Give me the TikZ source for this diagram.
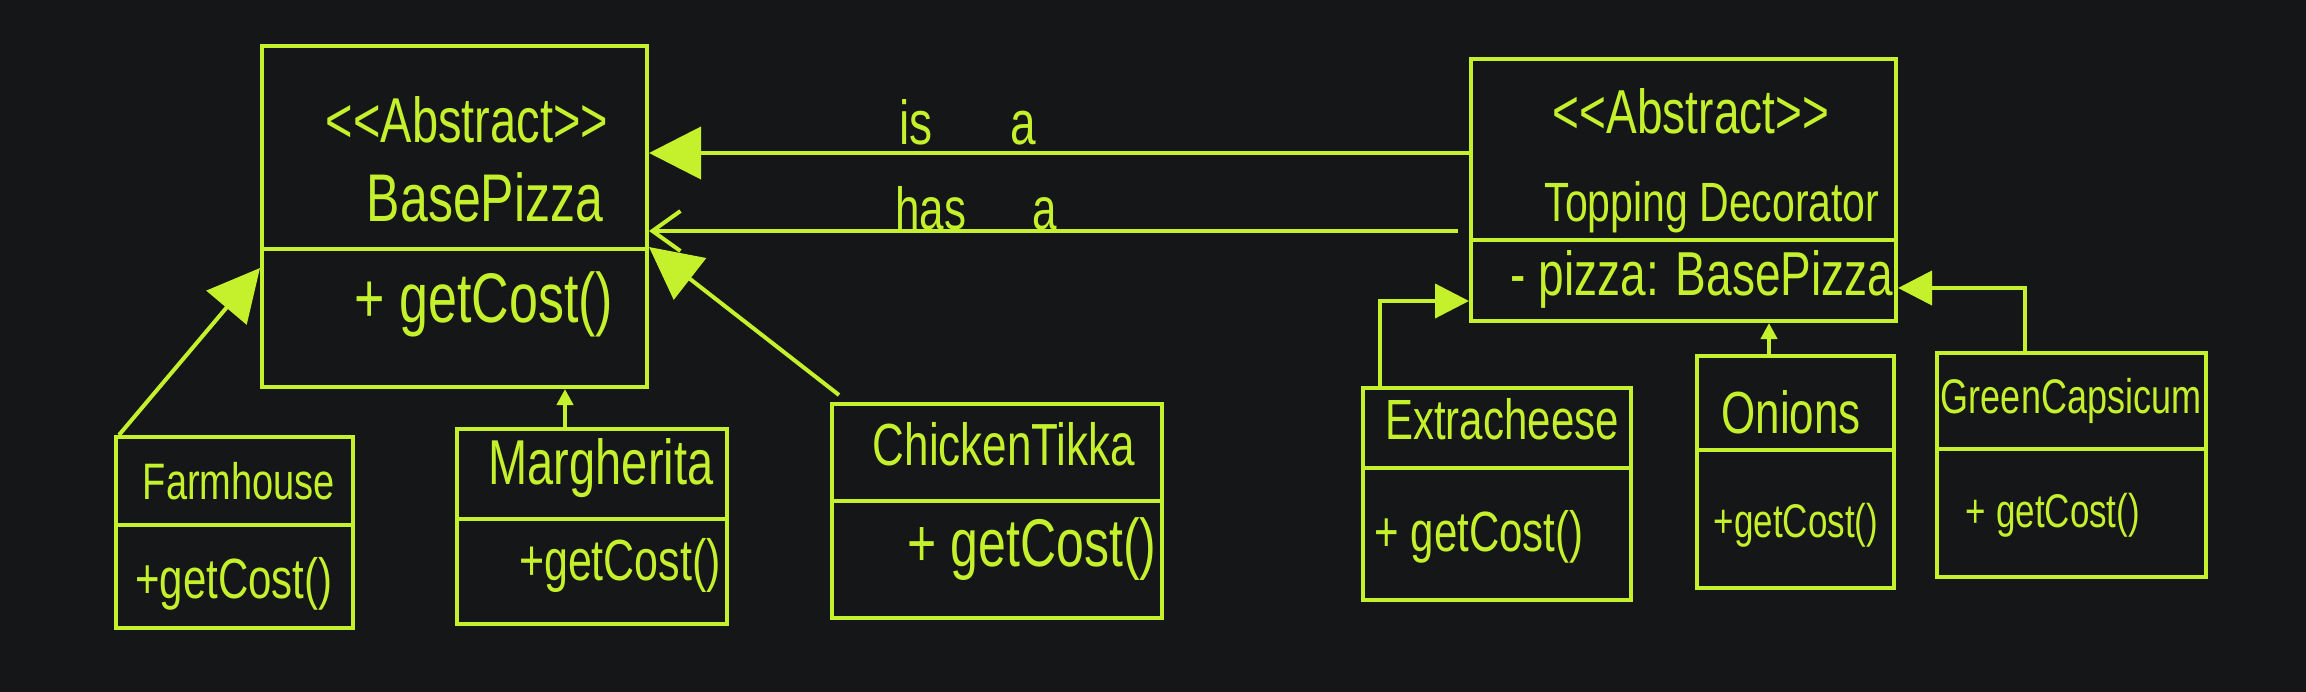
\documentclass[tikz,border=0pt]{standalone}
\usepackage{fontspec}
\setmainfont{Liberation Sans}
\usetikzlibrary{arrows.meta}
\definecolor{lime}{HTML}{C4F02C}
\definecolor{bg}{HTML}{141617}
\tikzset{
  ln/.style={draw=lime, line width=4pt},
  box/.style={draw=lime, line width=4pt, rectangle, inner sep=0pt},
  txt/.style={text=lime, inner sep=0pt, font=\fontsize{#1}{#1}\selectfont},
  tri/.style={-{Triangle[length=#1, width=#1, fill=lime]}},
}
\newcommand{\umlclass}[6]{%
  \node[box, minimum width={(#4)-(#2)}, minimum height={(#5)-(#3)}] (#1) at ({((#2)+(#4))/2},{((#3)+(#5))/2}) {};
  \draw[ln] (#1.west |- 0,#6) -- (#1.east |- 0,#6);
}
\newcommand{\hw}[1]{\scalebox{1}[1.35]{#1}}
\newcommand{\ab}{<\kern0pt<Abstract>\kern0pt>}
\begin{document}
\begin{tikzpicture}[x=1pt, y=-1pt]
\fill[bg] (0,0) rectangle (2306,692);
\useasboundingbox (0,0) rectangle (2306,692);

% classes
\umlclass{bp}{262}{46}{647}{387}{249}
\umlclass{fh}{116}{437}{353}{628}{525}
\umlclass{mg}{457}{429}{727}{624}{519}
\umlclass{ct}{832}{404}{1162}{618}{501}
\umlclass{td}{1471}{59}{1896}{321}{240}
\umlclass{ec}{1363}{388}{1631}{600}{468}
\umlclass{on}{1697}{356}{1894}{588}{450}
\umlclass{gc}{1937}{353}{2206}{577}{449}

% texts
\node[txt=47] (bp1) at (467,120) {\hw{\ab}};
\node[txt=50] (bp2) at (485,197) {\hw{BasePizza}};
\node[txt=52] (bp3) at (484,304) {\hw{+ getCost()}};
\node[txt=38] (fh1) at (239,481) {\hw{Farmhouse}};
\node[txt=42] (fh2) at (234,584) {\hw{+getCost()}};
\node[txt=47] (mg1) at (601,468) {\hw{Margherita}};
\node[txt=43] (mg2) at (620,565) {\hw{+getCost()}};
\node[txt=44] (ct1) at (1004,444) {\hw{ChickenTikka}};
\node[txt=50] (ct2) at (1032,549) {\hw{+ getCost()}};
\node[txt=46] (td1) at (1691,111) {\hw{\ab}};
\node[txt=41] (td2) at (1712,207) {\hw{Topping Decorator}};
\node[txt=46] (td3) at (1702,279) {\hw{- pizza: BasePizza}};
\node[txt=42] (ec1) at (1502,419) {\hw{Extracheese}};
\node[txt=42] (ec2) at (1479,537) {\hw{+ getCost()}};
\node[txt=44] (on1) at (1791,412) {\hw{Onions}};
\node[txt=35] (on2) at (1796,525) {\hw{+getCost()}};
\node[txt=36] (gc1) at (2071,401) {\hw{GreenCapsicum}};
\node[txt=35] (gc2) at (2053,515) {\hw{+ getCost()}};
\node[txt=46] (isa) at (968,122) {\hw{is\hspace{78pt}a}};
\node[txt=44] (hasa) at (976,208) {\hw{has\hspace{66pt}a}};

% connectors
\draw[ln, tri=52pt] (td.west |- 0,153) -- (bp.east |- 0,153);
\draw[ln, -{Straight Barb[length=28pt, width=40pt]}] ([xshift=-11pt]td.west |- 0,231) -- (bp.east |- 0,231);
\draw[ln, tri=52pt] ([xshift=5pt]fh.north west) -- (bp.west |- 0,268);
\draw[ln, tri=16pt] (mg.north -| 565,0) -- (bp.south -| 565,0);
\draw[ln, tri=52pt] ([shift={(9,-7)}]ct.north west) -- (bp.east |- 0,247);
\draw[ln, tri=34pt] ([xshift=19pt]ec.north west) |- (td.west |- 0,301);
\draw[ln, tri=16pt] (on.north -| 1769,0) -- (td.south -| 1769,0);
\draw[ln, tri=34pt] (gc.north -| 2025,0) |- (td.east |- 0,288);
\end{tikzpicture}
\end{document}
